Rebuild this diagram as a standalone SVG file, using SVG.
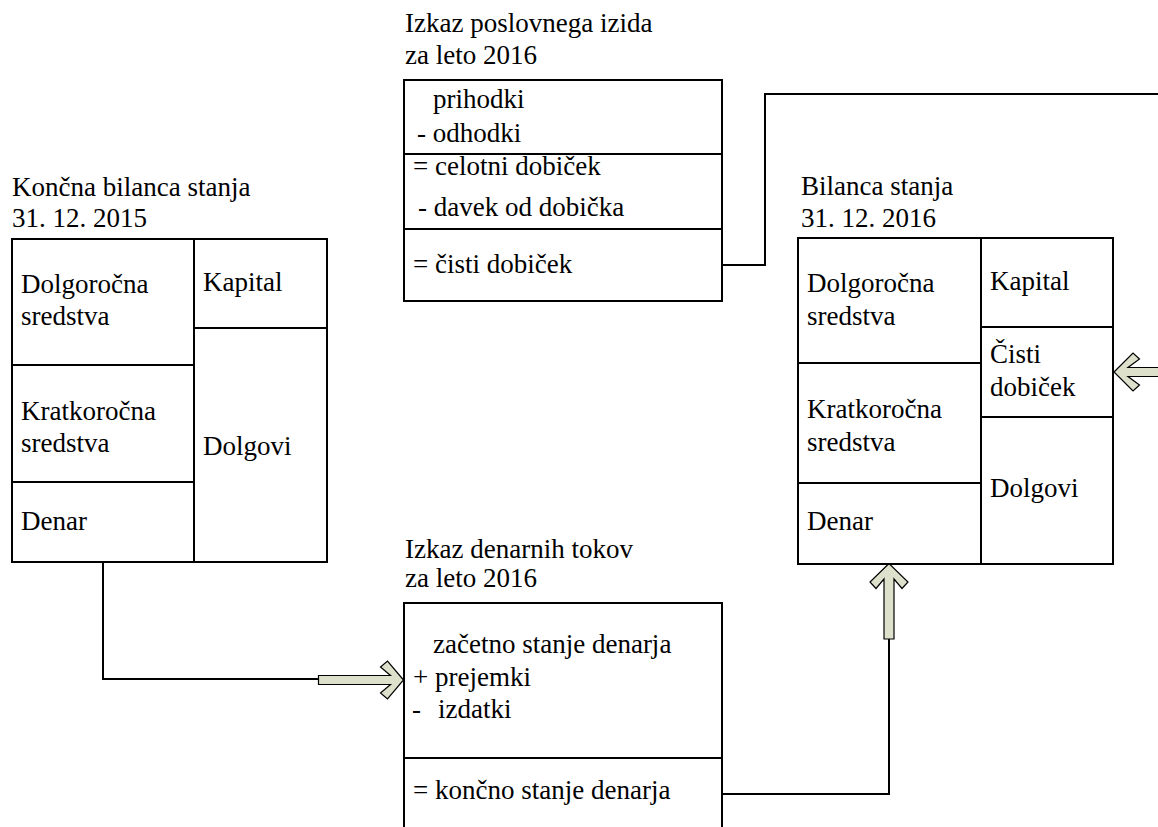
<svg xmlns="http://www.w3.org/2000/svg" width="1158" height="827" viewBox="0 0 1158 827">
<style>
text{font-family:"Liberation Serif","Times New Roman",serif;font-size:27px;fill:#000}
.box{fill:#fff;stroke:#000;stroke-width:2}
.div{stroke:#000;stroke-width:2;fill:none}
.conn{stroke:#000;stroke-width:2;fill:none}
.arr{fill:#dde0cb;stroke:#000;stroke-width:1.2;stroke-linejoin:miter}
</style>
<rect width="1158" height="827" fill="#fff"/>

<g id="connectors">
<path class="conn" d="M103,563 V679 H320"/>
<path class="conn" d="M722,794 H889 V638"/>
<path class="conn" d="M722,265 H765 V94 H1170 V372 H1157"/>
<path class="arr" d="M403.5,680 L387.5,661 L380.5,667 L390.5,675.5 L318.5,675.5 L318.5,684.5 L390.5,684.5 L380.5,693 L387.5,699 Z"/>
<path class="arr" d="M889,563.5 L870,582 L876,588.5 L884,579 L884,639 L894,639 L894,579 L902,588.5 L908,582 Z"/>
<path class="arr" d="M1114,372 L1133,353 L1139.5,359 L1128,367.5 L1160,367.5 L1160,376.5 L1128,376.5 L1139.5,385 L1133,391 Z"/>
</g>

<g id="bilanca2015">
<text x="12" y="196">Končna bilanca stanja</text>
<text x="12" y="227">31. 12. 2015</text>
<rect class="box" x="12" y="239" width="315" height="323"/>
<path class="div" d="M194,239 V562 M194,328 H327 M12,365 H194 M12,482 H194"/>
<text x="21" y="293">Dolgoročna</text>
<text x="21" y="325">sredstva</text>
<text x="21" y="420">Kratkoročna</text>
<text x="21" y="452">sredstva</text>
<text x="21" y="530">Denar</text>
<text x="203" y="291">Kapital</text>
<text x="203" y="455">Dolgovi</text>
</g>

<g id="izkazPI">
<text x="405" y="32">Izkaz poslovnega izida</text>
<text x="405" y="64">za leto 2016</text>
<rect class="box" x="404" y="80" width="318" height="221"/>
<path class="div" d="M404,154 H722 M404,229 H722"/>
<text x="433" y="108">prihodki</text>
<text x="417" y="142">- odhodki</text>
<text x="413" y="175">= celotni dobiček</text>
<text x="418" y="216">- davek od dobička</text>
<text x="413" y="273">= čisti dobiček</text>
</g>

<g id="bilanca2016">
<text x="801" y="195">Bilanca stanja</text>
<text x="801" y="227">31. 12. 2016</text>
<rect class="box" x="798" y="238" width="315" height="326"/>
<path class="div" d="M981,238 V564 M981,327 H1113 M981,417 H1113 M798,363 H981 M798,483 H981"/>
<text x="807" y="292">Dolgoročna</text>
<text x="807" y="325">sredstva</text>
<text x="807" y="418">Kratkoročna</text>
<text x="807" y="451">sredstva</text>
<text x="807" y="530">Denar</text>
<text x="990" y="290">Kapital</text>
<text x="990" y="363">Čisti</text>
<text x="990" y="396">dobiček</text>
<text x="990" y="497">Dolgovi</text>
</g>

<g id="izkazDT">
<text x="405" y="558">Izkaz denarnih tokov</text>
<text x="405" y="587">za leto 2016</text>
<rect class="box" x="404" y="603" width="318" height="240"/>
<path class="div" d="M404,758 H722"/>
<text x="433" y="653">začetno stanje denarja</text>
<text x="413" y="686">+ prejemki</text>
<text x="412" y="718">-</text>
<text x="438" y="718">izdatki</text>
<text x="413" y="799">= končno stanje denarja</text>
</g>
</svg>
